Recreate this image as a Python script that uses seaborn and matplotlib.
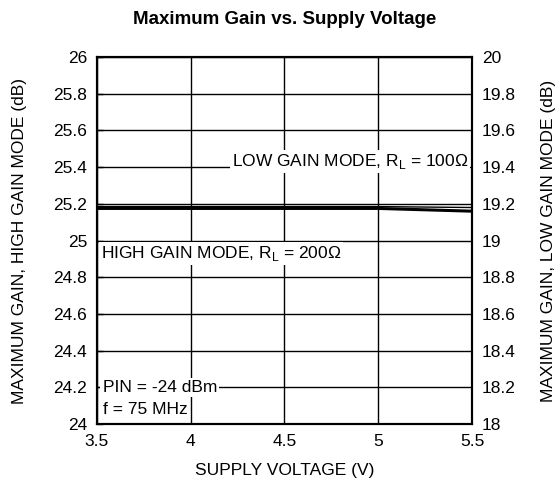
import matplotlib
matplotlib.use('Agg')
import matplotlib.pyplot as plt
import seaborn as sns
import pandas as pd

# data
voltage = [3.5, 4.0, 4.5, 5.0, 5.5]
high_gain = [25.185, 25.185, 25.185, 25.185, 25.18]   # left axis (dB)
low_gain = [19.175, 19.175, 19.175, 19.175, 19.16]    # right axis (dB)

sns.set_style('white')
plt.rcParams['font.family'] = ['Liberation Sans', 'DejaVu Sans']
plt.rcParams['mathtext.fontset'] = 'custom'
plt.rcParams['mathtext.rm'] = 'Liberation Sans'
for k in ['text.color', 'axes.labelcolor', 'xtick.color', 'ytick.color']:
    plt.rcParams[k] = 'black'

df = pd.DataFrame({'V': voltage, 'high': high_gain, 'low': low_gain})

fig = plt.figure(figsize=(5.6, 4.95), dpi=100)
ax = fig.add_axes([0.173, 0.143, 0.670, 0.742])
ax2 = ax.twinx()

sns.lineplot(data=df, x='V', y='high', ax=ax, color='black', linewidth=1.0)
sns.lineplot(data=df, x='V', y='low', ax=ax2, color='black', linewidth=2.2)

ax.set_xlim(3.5, 5.5)
ax.set_ylim(24, 26)
ax2.set_ylim(18, 20)
ax.set_xticks([3.5, 4, 4.5, 5, 5.5])
ax.set_xticklabels(['3.5', '4', '4.5', '5', '5.5'])
yt = [24 + 0.2 * i for i in range(11)]
ax.set_yticks(yt)
ax.set_yticklabels(['24', '24.2', '24.4', '24.6', '24.8', '25', '25.2', '25.4', '25.6', '25.8', '26'])
yt2 = [18 + 0.2 * i for i in range(11)]
ax2.set_yticks(yt2)
ax2.set_yticklabels(['18', '18.2', '18.4', '18.6', '18.8', '19', '19.2', '19.4', '19.6', '19.8', '20'])

fs = 12.5
ax.grid(True, color='black', linewidth=1.0)
ax.tick_params(direction='in', length=4, labelsize=fs, width=1, pad=7)
ax2.tick_params(direction='in', length=0, labelsize=fs, pad=7)
for a in (ax, ax2):
    for s in a.spines.values():
        s.set_color('black')
        s.set_linewidth(1.5)

ax.set_xlabel('SUPPLY VOLTAGE (V)', fontsize=fs, labelpad=10)
ax.set_ylabel('MAXIMUM GAIN, HIGH GAIN MODE (dB)', fontsize=fs, labelpad=19)
ax2.set_ylabel('MAXIMUM GAIN, LOW GAIN MODE (dB)', fontsize=fs, labelpad=18)
ax.set_title('Maximum Gain vs. Supply Voltage', fontsize=13.5, fontweight='bold', pad=24)

box = dict(facecolor='white', edgecolor='none', pad=1.5)
ax2.text(5.48, 19.43, r'LOW GAIN MODE, R$_\mathregular{L}$ = 100Ω', ha='right', va='center',
         fontsize=fs, bbox=box)
ax.text(3.52, 24.93, r'HIGH GAIN MODE, R$_\mathregular{L}$ = 200Ω', ha='left', va='center',
        fontsize=fs, bbox=box)
ax.text(3.53, 24.2, 'PIN = -24 dBm', ha='left', va='center', fontsize=fs, bbox=box)
ax.text(3.53, 24.08, 'f = 75 MHz', ha='left', va='center', fontsize=fs, bbox=box)

fig.savefig('out.png', dpi=100)
